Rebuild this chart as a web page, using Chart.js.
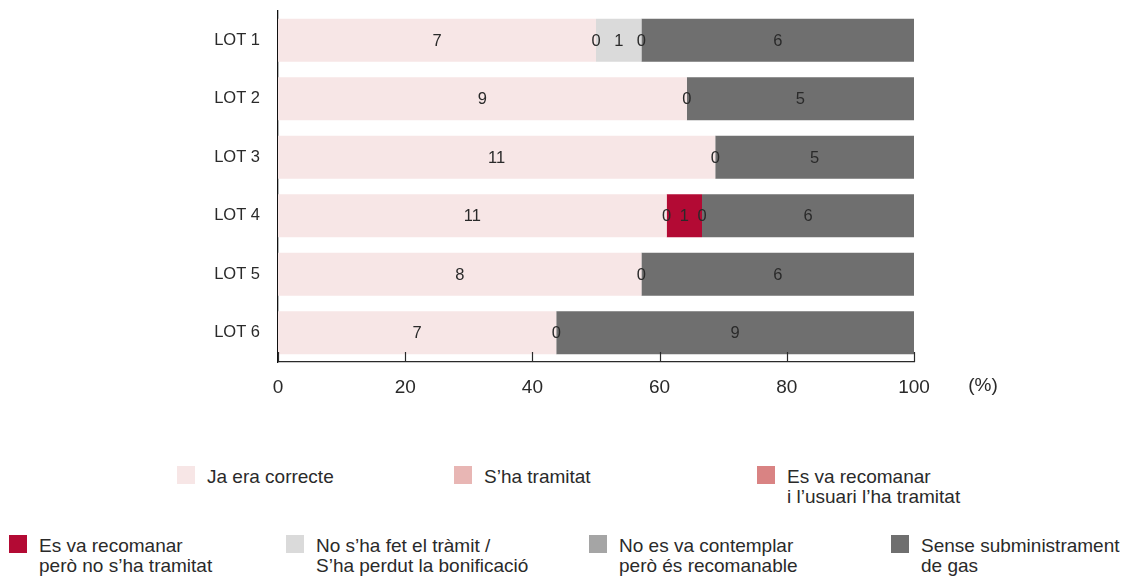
<!DOCTYPE html>
<html lang="ca">
<head>
<meta charset="utf-8">
<script src="https://cdn.jsdelivr.net/npm/chart.js@4/dist/chart.umd.min.js"></script>
<style>
    html, body { margin: 0; padding: 0; background: #fff; }
    #wrap { position: relative; width: 1132px; height: 578px; overflow: hidden; font-family: "Liberation Sans", Arial, sans-serif; color: #2a2a2a; }
    #lots { position: absolute; left: 0; top: 0; }
    .leg { position: absolute; font-size: 19px; line-height: 20px; white-space: nowrap; }
    .leg .sw { position: absolute; width: 18px; height: 18px; }
</style>
</head>
<body>
<div id="wrap">
    <canvas id="lots" width="1132" height="420"></canvas>
</div>
<script>
(function () {
    const lots = ['LOT 1', 'LOT 2', 'LOT 3', 'LOT 4', 'LOT 5', 'LOT 6'];

    // counts per lot; null = answer not present for that lot
    const jaEraCorrecte       = [7, 9, 11, 11, 8, 7];
    const shaTramitat         = [null, null, null, null, null, null];
    const recomanatTramitat   = [null, null, null, 0, null, null];
    const recomanatNoTramitat = [0, null, null, 1, null, null];
    const noFetTramit         = [1, null, null, null, null, null];
    const noContemplat        = [0, 0, 0, 0, 0, 0];
    const senseGas            = [6, 5, 5, 6, 6, 9];

    const xTicks = [0, 20, 40, 60, 80, 100];

    const series = [
        {name: ['Ja era correcte'], data: jaEraCorrecte, color: '#f7e6e6'},
        {name: ['S\u2019ha tramitat'], data: shaTramitat, color: '#e8b6b4'},
        {name: ['Es va recomanar', 'i l\u2019usuari l\u2019ha tramitat'], data: recomanatTramitat, color: '#d98383'},
        {name: ['Es va recomanar', 'però no s\u2019ha tramitat'], data: recomanatNoTramitat, color: '#b30a34'},
        {name: ['No s\u2019ha fet el tràmit /', 'S\u2019ha perdut la bonificació'], data: noFetTramit, color: '#dadada'},
        {name: ['No es va contemplar', 'però és recomanable'], data: noContemplat, color: '#a5a5a5'},
        {name: ['Sense subministrament', 'de gas'], data: senseGas, color: '#6f6f6f'}
    ];

    const totals = lots.map((_, i) => series.reduce((s, d) => s + (d.data[i] || 0), 0));

    const font = '"Liberation Sans", Arial, sans-serif';
    const ink = '#2a2a2a';

    const valueLabels = {
        id: 'valueLabels',
        afterDatasetsDraw(chart) {
            const ctx = chart.ctx;
            ctx.save();
            ctx.font = `16.5px ${font}`;
            ctx.fillStyle = ink;
            ctx.textAlign = 'center';
            ctx.textBaseline = 'middle';
            chart.data.datasets.forEach((ds, di) => {
                chart.getDatasetMeta(di).data.forEach((bar, i) => {
                    const raw = ds.counts[i];
                    if (raw === null || raw === undefined) return;
                    const c = bar.getCenterPoint();
                    ctx.fillText(String(raw), c.x, c.y + 1);
                });
            });
            ctx.restore();
        }
    };

    const innerTicks = {
        id: 'innerTicks',
        afterDraw(chart) {
            const ctx = chart.ctx;
            const x = chart.scales.x;
            const bottom = chart.chartArea.bottom;
            ctx.save();
            ctx.strokeStyle = '#2a2a2a';
            ctx.lineWidth = 1.2;
            xTicks.forEach(v => {
                const px = Math.round(x.getPixelForValue(v)) + 0.5;
                ctx.beginPath();
                ctx.moveTo(px, bottom - 10);
                ctx.lineTo(px, bottom);
                ctx.stroke();
            });
            ctx.font = `19px ${font}`;
            ctx.fillStyle = ink;
            ctx.textAlign = 'center';
            ctx.textBaseline = 'middle';
            ctx.fillText('(%)', 983, 386);
            ctx.restore();
        }
    };

    new Chart(document.getElementById('lots'), {
        type: 'bar',
        data: {
            labels: lots,
            datasets: series.map(s => ({
                label: s.name.join(' '),
                counts: s.data,
                data: s.data.map((v, i) => v === null ? null : v / totals[i] * 100),
                backgroundColor: s.color,
                borderWidth: 0,
                categoryPercentage: 1,
                barPercentage: 0.735
            }))
        },
        options: {
            indexAxis: 'y',
            responsive: false,
            animation: false,
            layout: {padding: {top: 11, right: 218, left: 0, bottom: 0}},
            plugins: {legend: {display: false}, tooltip: {enabled: false}},
            scales: {
                x: {
                    stacked: true,
                    min: 0,
                    max: 100,
                    afterBuildTicks: (s) => { s.ticks = xTicks.map(v => ({value: v})); },
                    grid: {display: false, drawTicks: false},
                    border: {display: true, color: '#2a2a2a', width: 1.3},
                    ticks: {font: {size: 19, family: font}, color: ink, padding: 14},
                    afterFit: (s) => { s.height = 58; }
                },
                y: {
                    stacked: true,
                    // tick marks hidden, tickLength only spaces the labels off the axis
                    grid: {display: false, drawTicks: true, tickLength: 18},
                    border: {display: true, color: '#111', width: 1.3},
                    ticks: {font: {size: 16.5, family: font}, color: ink, padding: 0},
                    afterFit: (s) => { s.width = 278; }
                }
            }
        },
        plugins: [valueLabels, innerTicks]
    });

    // legend, two rows
    const wrap = document.getElementById('wrap');
    const spots = [
        {x: 207, y: 467, sy: 466}, {x: 484, y: 467, sy: 466}, {x: 787, y: 467, sy: 466},
        {x: 39, y: 536, sy: 535}, {x: 316, y: 536, sy: 535}, {x: 619, y: 536, sy: 535}, {x: 921, y: 536, sy: 535}
    ];
    series.forEach((s, i) => {
        const p = spots[i];
        const item = document.createElement('div');
        item.className = 'leg';
        item.style.left = p.x + 'px';
        item.style.top = p.y + 'px';
        item.innerHTML = s.name.join('<br>');
        const sw = document.createElement('span');
        sw.className = 'sw';
        sw.style.background = s.color;
        sw.style.left = '-30px';
        sw.style.top = (p.sy - p.y) + 'px';
        item.appendChild(sw);
        wrap.appendChild(item);
    });
})();
</script>
</body>
</html>
